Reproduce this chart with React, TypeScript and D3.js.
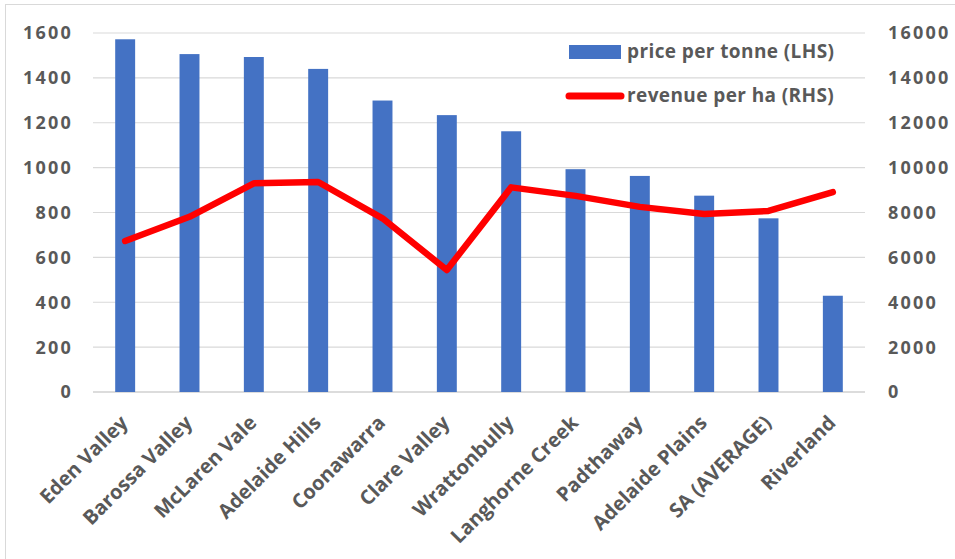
import React from "react";
import * as d3 from "d3";

const categories = [
  "Eden Valley", "Barossa Valley", "McLaren Vale", "Adelaide Hills", "Coonawarra",
  "Clare Valley", "Wrattonbully", "Langhorne Creek", "Padthaway", "Adelaide Plains",
  "SA (AVERAGE)", "Riverland",
];
const pricePerTonne = [1572, 1506, 1493, 1440, 1299, 1234, 1162, 993, 963, 875, 774, 429];
const revenuePerHa = [6730, 7810, 9300, 9360, 7740, 5440, 9120, 8740, 8250, 7930, 8070, 8910];
const leftTicks = [0, 200, 400, 600, 800, 1000, 1200, 1400, 1600];
const rightTicks = [0, 2000, 4000, 6000, 8000, 10000, 12000, 14000, 16000];
const seriesNames = ["price per tonne (LHS)", "revenue per ha (RHS)"];

const W = 955, H = 559;
const left = 93, right = 865, top = 33, bottom = 392;
const FONT = "'Open Sans', sans-serif";
const TXT = "#595959";

export default function App() {
  const x = d3.scaleBand<string>().domain(categories).range([left, right]).paddingInner(0.69).paddingOuter(0.345);
  const yL = d3.scaleLinear().domain([0, 1600]).range([bottom, top]);
  const yR = d3.scaleLinear().domain([0, 16000]).range([bottom, top]);
  const line = d3.line<number>()
    .x((_, i) => (x(categories[i]) as number) + x.bandwidth() / 2)
    .y((d) => yR(d));

  return (
    <svg width={W} height={H} style={{ position: "absolute", left: 0, top: 0 }}>
      <rect x={0} y={0} width={W} height={H} fill="#fff" />
      <rect x={5.5} y={4.5} width={W + 10} height={H + 10} fill="none" stroke="#d9d9d9" strokeWidth={1} />
      {leftTicks.map((t) => (
        <line key={t} x1={left} x2={right} y1={yL(t)} y2={yL(t)} stroke={t === 0 ? "#d0d0d0" : "#d9d9d9"} strokeWidth={t === 0 ? 1.5 : 1.2} />
      ))}
      {pricePerTonne.map((v, i) => (
        <rect key={i} x={x(categories[i])} y={yL(v)} width={x.bandwidth()} height={bottom - yL(v)} fill="#4472c4" />
      ))}
      <path d={line(revenuePerHa) || ""} fill="none" stroke="#ff0000" strokeWidth={6.5} strokeLinecap="round" strokeLinejoin="round" />
      {leftTicks.map((t) => (
        <text key={t} x={73} y={yL(t)} dy="0.36em" textAnchor="end" fontFamily={FONT} fontWeight={700} fontSize={18} letterSpacing={2.2} fill={TXT}>{t}</text>
      ))}
      {rightTicks.map((t) => (
        <text key={t} x={888} y={yR(t)} dy="0.36em" textAnchor="start" fontFamily={FONT} fontWeight={700} fontSize={18} letterSpacing={2.2} fill={TXT}>{t}</text>
      ))}
      {categories.map((c) => {
        const cx = (x(c) as number) + x.bandwidth() / 2;
        return (
          <text key={c} transform={`translate(${cx + 4},${424}) rotate(-45)`} textAnchor="end" fontFamily={FONT} fontWeight={700} fontSize={20} fill={TXT}>{c}</text>
        );
      })}
      <rect x={569} y={45} width={52} height={14} fill="#4472c4" />
      <text x={627} y={58} fontFamily={FONT} fontWeight={700} fontSize={19} letterSpacing={0.4} fill={TXT}>{seriesNames[0]}</text>
      <line x1={569} x2={621} y1={96} y2={96} stroke="#ff0000" strokeWidth={7} strokeLinecap="round" />
      <text x={627} y={102} fontFamily={FONT} fontWeight={700} fontSize={19} letterSpacing={0.4} fill={TXT}>{seriesNames[1]}</text>
    </svg>
  );
}
